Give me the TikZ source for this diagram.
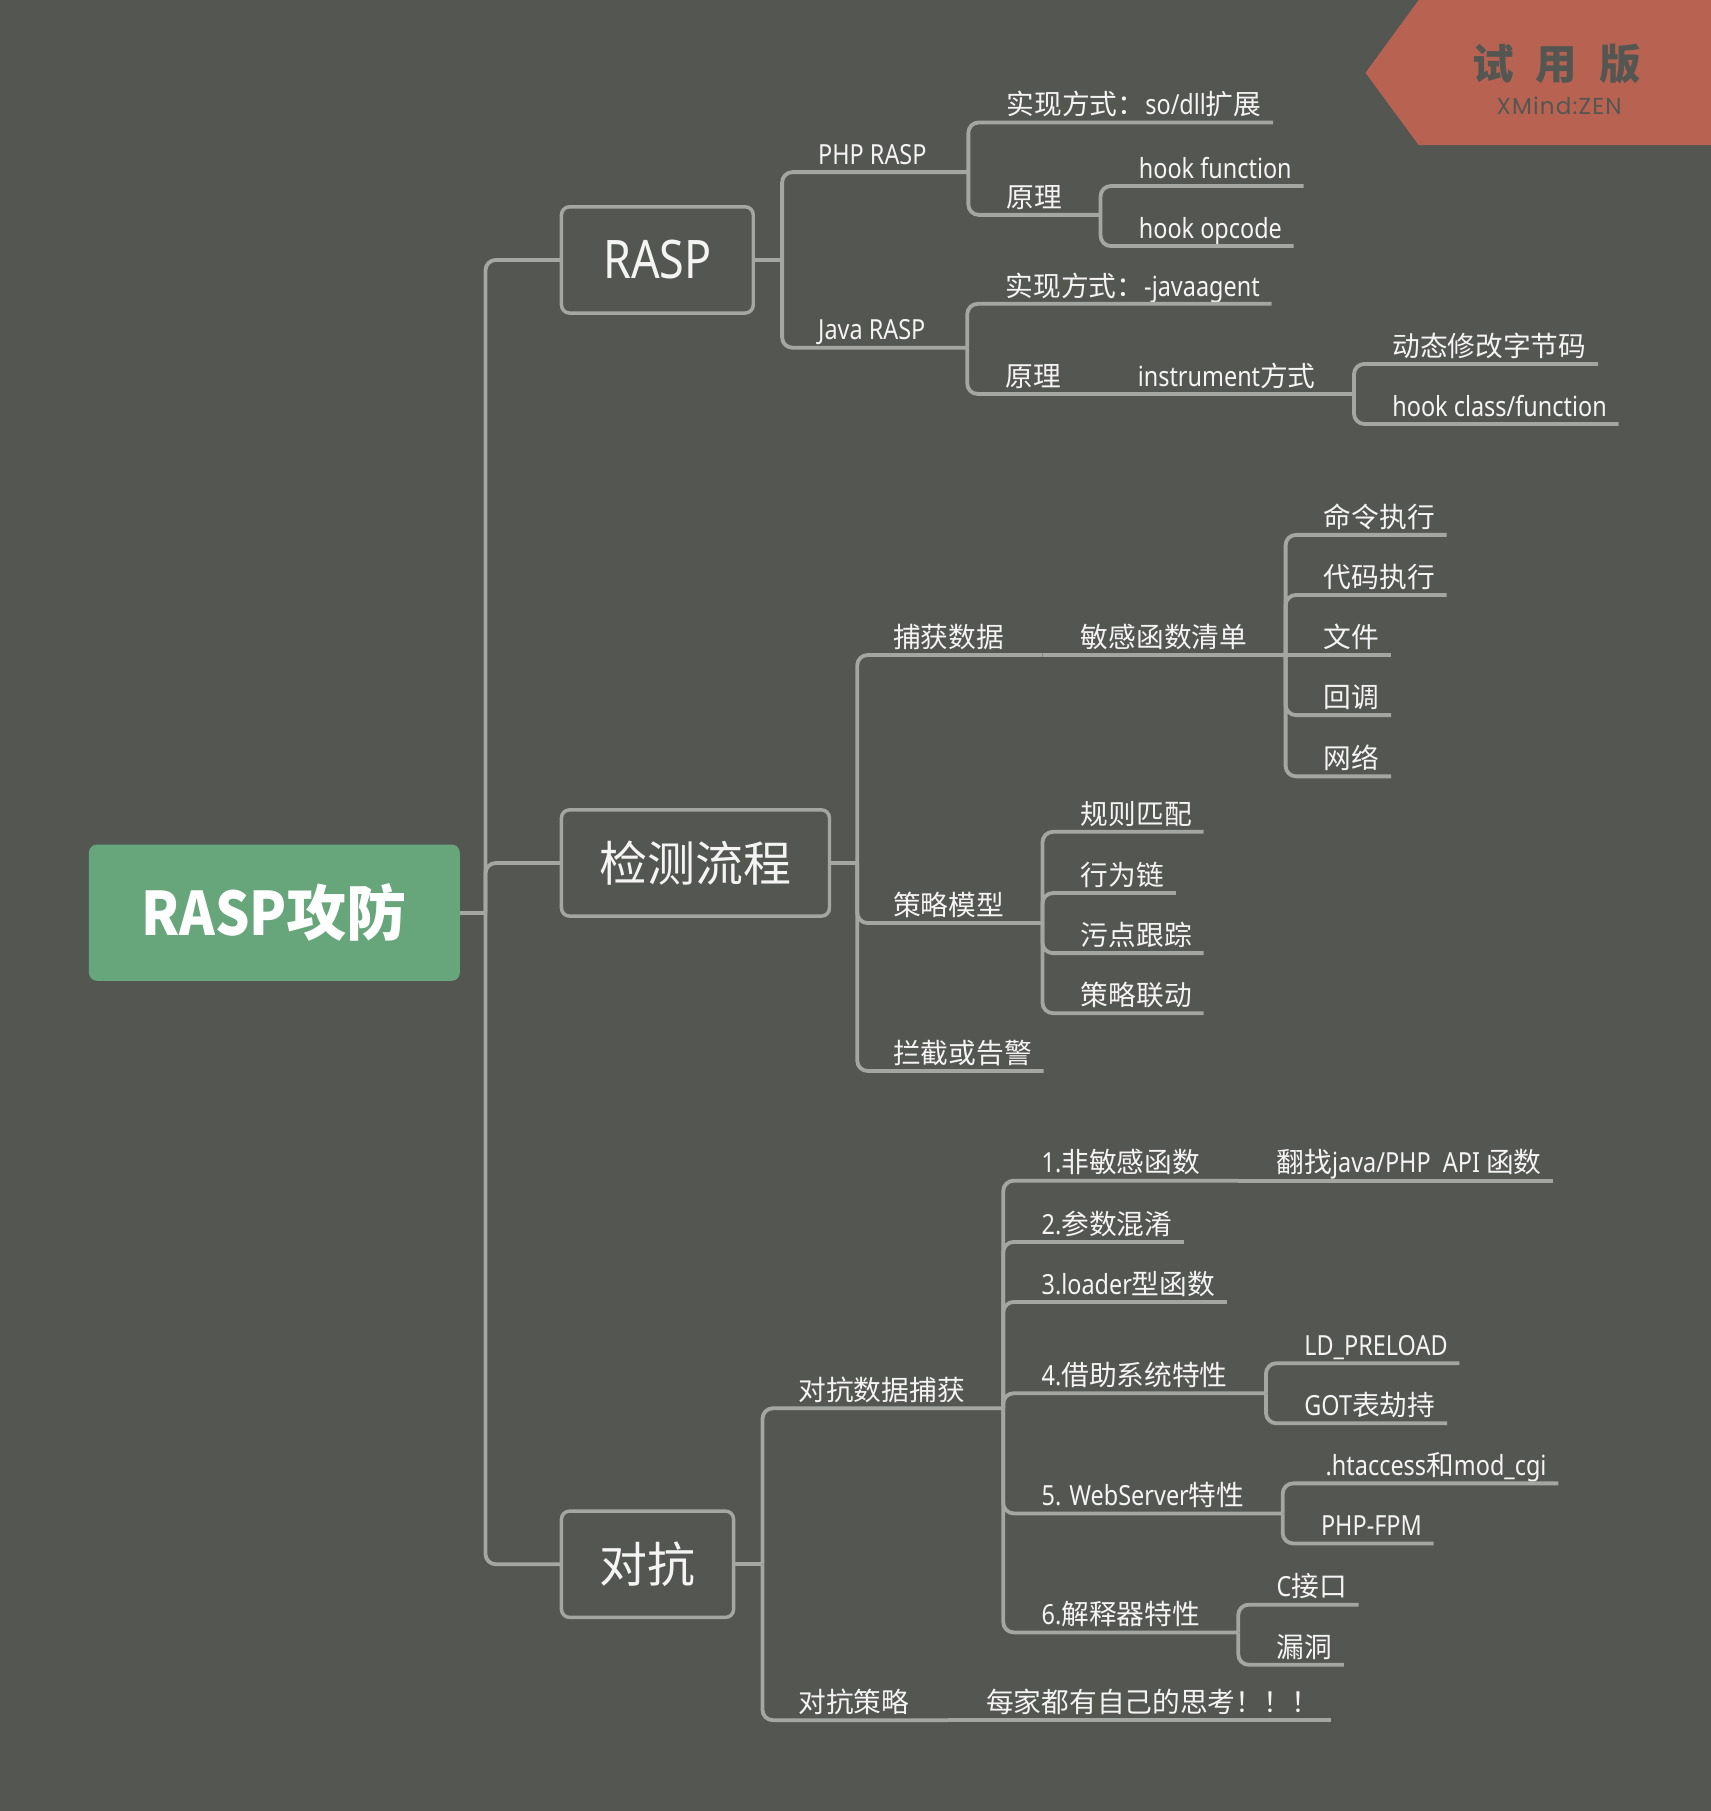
\documentclass[tikz,border=0pt]{standalone}
\usepackage{fontspec}
\setmainfont{Noto Sans CJK SC}
\newfontfamily\enfont{Noto Sans}[FakeStretch=0.845]
\newfontfamily\enboldfont{Noto Sans CJK SC}[FakeStretch=0.9]
\newfontfamily\wmfont{Poppins}[LetterSpace=5]
\newcommand{\en}[1]{{\enfont #1}}
\usepackage{tikz}
\definecolor{bg}{HTML}{545652}
\definecolor{linkgray}{HTML}{A4A6A2}
\definecolor{fg}{HTML}{F4F4F2}
\definecolor{rootgreen}{HTML}{67A57B}
\definecolor{trial}{HTML}{B86352}
\tikzstyle{root} = [fill=rootgreen, rounded corners=7pt, text=white, font=\fontsize{52}{60}\selectfont\bfseries, minimum width=321pt, minimum height=118pt]
\tikzstyle{topic} = [draw=linkgray, line width=3pt, fill=bg, rounded corners=7pt, text=fg, font=\fontsize{41.5}{50}\selectfont, minimum height=92pt, anchor=west, outer sep=0pt]
\tikzstyle{sub} = [anchor=south west, inner xsep=0pt, inner ysep=0pt, text height=20pt, text depth=6.5pt, text=fg, font=\fontsize{24}{28}\selectfont]
\tikzstyle{link} = [draw=linkgray, line width=3.3pt, rounded corners=9pt]

\begin{document}
\begin{tikzpicture}[x=1pt, y=-1pt]
    \useasboundingbox (0,0) rectangle (1481,1567.6);
    \fill[bg] (0,0) rectangle (1481,1567.6);

    % Trial badge
    \fill[trial] (1182,63) -- (1228,0) -- (1481,0) -- (1481,125.6) -- (1228,125.6) -- cycle;
    \node[text=bg, font={\fontsize{36}{40}\selectfont\bfseries\spaceskip=19pt\relax}] (badge) at (1347.5,55) {试 用 版};
    \node[text=bg, font=\wmfont\fontsize{20}{22}\selectfont] (badge-sub) at (1349.5,92) {XMind:ZEN};

    % Main topics
    \node[root] (main) at (237.5,790) {{\enboldfont RASP}攻防};
    \node[topic, minimum width=166pt] (rasp) at (486,225) {\fontsize{46}{50}\selectfont\en{RASP}};
    \node[topic, minimum width=232pt] (flow) at (486,747) {检测流程};
    \node[topic, minimum width=149pt] (fight) at (486,1354) {对抗};
    \coordinate (main-j) at ([xshift=22]main.east);
    \draw[link] (main.east) -- (main-j);
    \foreach \t in {rasp,flow,fight}
        \draw[link] (main-j) |- (\t.west);

    % RASP
    \coordinate (rasp-j) at ([xshift=25]rasp.east);
    \draw[link] (rasp.east) -- (rasp-j);
    \node[sub] (php) at ([shift={(31,-76)}]rasp-j) {\en{PHP RASP}};
    \node[sub] (java) at ([shift={(31,76)}]rasp-j) {\en{Java RASP}};
    \coordinate (php-j) at ([xshift=36]php.south east);
    \coordinate (java-j) at ([xshift=36]java.south east);
    \draw[link] (rasp-j) |- (php-j);
    \draw[link] (rasp-j) |- (java-j);

    \node[sub] (php-way) at ([shift={(33,-43)}]php-j) {实现方式：\en{so/dll}扩展};
    \node[sub] (php-how) at ([shift={(33,37)}]php-j) {原理};
    \coordinate (php-how-j) at ([xshift=33]php-how.south east);
    \draw[link] (php-j) |- ([xshift=10]php-way.south east);
    \draw[link] (php-j) |- (php-how-j);
    \foreach \t/\d [count=\i] in {hook function/-25, hook opcode/27} {
        \node[sub] (php-hook\i) at ([shift={(33,\d)}]php-how-j) {\en{\t}};
        \draw[link] (php-how-j) |- ([xshift=10]php-hook\i.south east);
    }

    \node[sub] (java-way) at ([shift={(33,-38)}]java-j) {实现方式：\en{-javaagent}};
    \node[sub] (java-how) at ([shift={(33,40)}]java-j) {原理};
    \coordinate (java-how-j) at ([xshift=33]java-how.south east);
    \draw[link] (java-j) |- ([xshift=10]java-way.south east);
    \draw[link] (java-j) |- (java-how-j);
    \node[sub] (instr) at ([xshift=33]java-how-j) {\en{instrument}方式};
    \coordinate (instr-j) at ([xshift=33]instr.south east);
    \draw[link] (java-how-j) -- (instr-j);
    \foreach \t/\d [count=\i] in {动态修改字节码/-26, \en{hook class/function}/26} {
        \node[sub] (instr\i) at ([shift={(33,\d)}]instr-j) {\t};
        \draw[link] (instr-j) |- ([xshift=10]instr\i.south east);
    }

    % Detection flow
    \coordinate (flow-j) at ([xshift=24]flow.east);
    \draw[link] (flow.east) -- (flow-j);
    \node[sub] (catch) at ([shift={(31,-180)}]flow-j) {捕获数据};
    \node[sub] (model) at ([shift={(31,52)}]flow-j) {策略模型};
    \node[sub] (block) at ([shift={(31,180)}]flow-j) {拦截或告警};
    \coordinate (catch-j) at ([xshift=33]catch.south east);
    \coordinate (model-j) at ([xshift=33]model.south east);
    \draw[link] (flow-j) |- (catch-j);
    \draw[link] (flow-j) |- (model-j);
    \draw[link] (flow-j) |- ([xshift=10]block.south east);

    \node[sub] (sens) at ([xshift=33]catch-j) {敏感函数清单};
    \coordinate (sens-j) at ([xshift=33]sens.south east);
    \draw[link] (catch-j) -- (sens-j);
    \node[sub] (file) at ([xshift=33]sens-j) {文件};
    \draw[link] (sens-j) -- ([xshift=10]file.south east);
    \foreach \t/\d in {命令执行/-104, 代码执行/-52, 回调/52, 网络/105} {
        \node[sub] (fn\d) at ([shift={(33,\d)}]sens-j) {\t};
        \draw[link] (sens-j) |- ([xshift=10]fn\d.south east);
    }
    \foreach \t/\d [count=\i] in {规则匹配/-79, 行为链/-26, 污点跟踪/26, 策略联动/78} {
        \node[sub] (rule\i) at ([shift={(33,\d)}]model-j) {\t};
        \draw[link] (model-j) |- ([xshift=10]rule\i.south east);
    }

    % Countermeasures
    \coordinate (fight-j) at ([xshift=25]fight.east);
    \draw[link] (fight.east) -- (fight-j);
    \node[sub] (fcatch) at ([shift={(31,-135)}]fight-j) {对抗数据捕获};
    \node[sub] (fplan) at ([shift={(31,135)}]fight-j) {对抗策略};
    \coordinate (fcatch-j) at ([xshift=33]fcatch.south east);
    \coordinate (fplan-j) at ([xshift=33]fplan.south east);
    \draw[link] (fight-j) |- (fcatch-j);
    \draw[link] (fight-j) |- (fplan-j);
    \node[sub] (idea) at ([xshift=33]fplan-j) {每家都有自己的思考！！！};
    \draw[link] (fplan-j) -- ([xshift=10]idea.south east);

    \foreach \t/\d/\p [count=\i] in {\en{1.}非敏感函数/-197/33, \en{2.}参数混淆/-144/10, \en{3.loader}型函数/-92/10, \en{4.}借助系统特性/-13/33, \en{5. WebServer}特性/91/33, \en{6.}解释器特性/194/33} {
        \node[sub] (way\i) at ([shift={(33,\d)}]fcatch-j) {\t};
        \coordinate (way\i-j) at ([xshift=\p]way\i.south east);
        \draw[link] (fcatch-j) |- (way\i-j);
    }
    \node[sub] (api) at ([xshift=33]way1-j) {翻找\en{java/PHP\ \ API }函数};
    \draw[link] (way1-j) -- ([xshift=10]api.south east);

    \node[sub] (ld) at ([shift={(33,-26)}]way4-j) {\en{LD\_PRELOAD}};
    \node[sub] (got) at ([shift={(33,26)}]way4-j) {\en{GOT}表劫持};
    \draw[link] (way4-j) |- ([xshift=10]ld.south east);
    \draw[link] (way4-j) |- ([xshift=10]got.south east);

    \node[sub] (hta) at ([shift={(37,-26)}]way5-j) {\en{.htaccess}和\en{mod\_cgi}};
    \node[sub] (fpm) at ([shift={(33,26)}]way5-j) {\en{PHP-FPM}};
    \draw[link] (way5-j) |- ([xshift=10]hta.south east);
    \draw[link] (way5-j) |- ([xshift=10]fpm.south east);

    \node[sub] (capi) at ([shift={(33,-24)}]way6-j) {\en{C}接口};
    \node[sub] (vuln) at ([shift={(33,28)}]way6-j) {漏洞};
    \draw[link] (way6-j) |- ([xshift=10]capi.south east);
    \draw[link] (way6-j) |- ([xshift=10]vuln.south east);
\end{tikzpicture}
\end{document}
